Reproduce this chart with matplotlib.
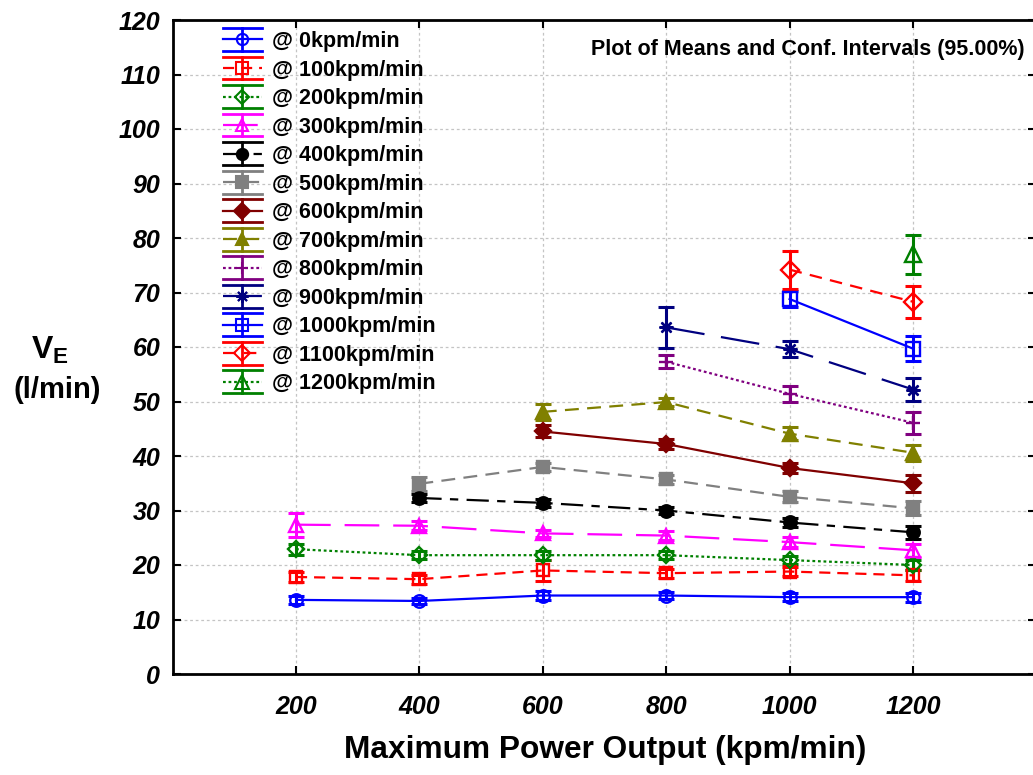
import numpy as np
import matplotlib
matplotlib.use("Agg")
import matplotlib.pyplot as plt
from matplotlib.lines import Line2D
from matplotlib.legend_handler import HandlerBase

plt.rcParams['font.family'] = ['Liberation Sans', 'DejaVu Sans']
plt.rcParams['mathtext.fontset'] = 'custom'
plt.rcParams['mathtext.bf'] = 'Liberation Sans:bold'
plt.rcParams['mathtext.rm'] = 'Liberation Sans:bold'
plt.rcParams['lines.scale_dashes'] = False

# ---------------- data ----------------
power_levels = [200, 400, 600, 800, 1000, 1200]
nan = np.nan

series_labels = ['@ 0kpm/min', '@ 100kpm/min', '@ 200kpm/min', '@ 300kpm/min',
                 '@ 400kpm/min', '@ 500kpm/min', '@ 600kpm/min', '@ 700kpm/min',
                 '@ 800kpm/min', '@ 900kpm/min', '@ 1000kpm/min', '@ 1100kpm/min',
                 '@ 1200kpm/min']

means_0 = [13.6, 13.4, 14.4, 14.4, 14.1, 14.1]
ci_0 = [0.7, 0.6, 0.8, 0.7, 0.7, 0.8]
means_100 = [17.8, 17.4, 19.0, 18.5, 18.8, 18.1]
ci_100 = [0.9, 0.8, 1.9, 0.8, 0.8, 1.0]
means_200 = [22.9, 21.8, 21.8, 21.8, 20.9, 20.0]
ci_200 = [1.0, 0.7, 0.8, 0.7, 0.8, 1.0]
means_300 = [27.4, 27.2, 25.8, 25.4, 24.2, 22.7]
ci_300 = [2.2, 0.8, 0.7, 0.8, 0.9, 1.2]
means_400 = [nan, 32.3, 31.4, 30.0, 27.8, 26.0]
ci_400 = [nan, 0.8, 0.7, 0.7, 0.9, 1.2]
means_500 = [nan, 34.9, 38.0, 35.7, 32.5, 30.4]
ci_500 = [nan, 1.3, 0.8, 0.9, 1.0, 1.3]
means_600 = [nan, nan, 44.5, 42.2, 37.8, 35.0]
ci_600 = [nan, nan, 1.1, 0.9, 1.0, 1.6]
means_700 = [nan, nan, 48.1, 49.9, 44.1, 40.6]
ci_700 = [nan, nan, 1.5, 0.8, 1.2, 1.5]
means_800 = [nan, nan, nan, 57.3, 51.4, 46.1]
ci_800 = [nan, nan, nan, 1.2, 1.4, 2.0]
means_900 = [nan, nan, nan, 63.6, 59.6, 52.2]
ci_900 = [nan, nan, nan, 3.8, 1.5, 2.1]
means_1000 = [nan, nan, nan, nan, 68.8, 59.7]
ci_1000 = [nan, nan, nan, nan, 1.5, 2.3]
means_1100 = [nan, nan, nan, nan, 74.2, 68.3]
ci_1100 = [nan, nan, nan, nan, 3.5, 2.9]
means_1200 = [nan, nan, nan, nan, nan, 77.0]
ci_1200 = [nan, nan, nan, nan, nan, 3.6]

all_means = [means_0, means_100, means_200, means_300, means_400, means_500,
             means_600, means_700, means_800, means_900, means_1000, means_1100,
             means_1200]
all_ci = [ci_0, ci_100, ci_200, ci_300, ci_400, ci_500, ci_600, ci_700, ci_800,
          ci_900, ci_1000, ci_1100, ci_1200]

# ---------------- styles ----------------
colors = ['#0000ff', '#ff0000', '#008000', '#ff00ff', '#000000', '#808080',
          '#800000', '#808000', '#800080', '#000080', '#0000ff', '#ff0000',
          '#008000']
markers = ['o', 's', 'D', '^', 'o', 's', 'D', '^', '+', (8, 2, 0), 's', 'D', '^']
filled = [False, False, False, False, True, True, True, True, True, False,
          False, False, False]
msizes = [9, 9, 8, 10, 9, 9, 8.5, 10, 10, 10, 10, 9, 11]
linestyles = ['-', (0, (8, 5)), (0, (2, 2)), (0, (25, 10)), (0, (16, 6, 6, 6)),
              (0, (10, 6)), '-', (0, (10, 6)), (0, (2, 2)), (0, (28, 12)), '-',
              (0, (9, 6)), (0, (2, 2))]

fig = plt.figure(figsize=(10.33, 7.75), dpi=100)
W, H = 1033.0, 775.0
ax_left, ax_right, ax_top, ax_bot = 172.6, 1036.4, 20.0, 674.0
ax = fig.add_axes([ax_left / W, 1 - ax_bot / H, (ax_right - ax_left) / W,
                   (ax_bot - ax_top) / H])

x = np.array(power_levels, dtype=float)
for i in range(len(series_labels)):
    m = np.array(all_means[i], dtype=float)
    c = np.array(all_ci[i], dtype=float)
    ok = ~np.isnan(m)
    mfc = colors[i] if filled[i] else 'none'
    ax.plot(x[ok], m[ok], color=colors[i], linestyle=linestyles[i], lw=1.6,
            zorder=3)
    ax.errorbar(x[ok], m[ok], yerr=c[ok], fmt='none', ecolor=colors[i],
                elinewidth=2.2, capsize=5.5, capthick=2.2, zorder=4)
    ax.plot(x[ok], m[ok], linestyle='none', marker=markers[i], ms=msizes[i],
            mfc=mfc, mec=colors[i], mew=1.7, color=colors[i], zorder=5)


class ErrHandler(HandlerBase):
    def create_artists(self, legend, orig_handle, xdescent, ydescent, width,
                       height, fontsize, trans):
        col = orig_handle.get_color()
        x0 = -xdescent
        x1 = x0 + width
        xm = (x0 + x1) / 2
        ym = -ydescent + height / 2
        half = 0.53 * fontsize
        arts = []
        hl = Line2D([x0, x1], [ym, ym], color=col, lw=1.6)
        dp = orig_handle._dash_pattern[1]
        if dp:
            hl.set_dashes(dp)
        arts.append(hl)
        arts.append(Line2D([xm, xm], [ym - half, ym + half], color=col, lw=2.0))
        arts.append(Line2D([x0, x1], [ym - half, ym - half], color=col, lw=2.0))
        arts.append(Line2D([x0, x1], [ym + half, ym + half], color=col, lw=2.0))
        mk = Line2D([xm], [ym], linestyle='none', marker=orig_handle.get_marker(),
                    ms=orig_handle.get_markersize() * 0.9,
                    mfc=orig_handle.get_markerfacecolor(), mec=col, mew=1.5)
        arts.append(mk)
        for a in arts:
            a.set_transform(trans)
        return arts


proxies = []
for i in range(len(series_labels)):
    mfc = colors[i] if filled[i] else 'none'
    proxies.append(Line2D([], [], color=colors[i], linestyle=linestyles[i],
                          marker=markers[i], ms=msizes[i], mfc=mfc))

leg = ax.legend(proxies, series_labels, loc='upper left',
                bbox_to_anchor=((223 - ax_left) / (ax_right - ax_left),
                                1.0 - 11 / (ax_bot - ax_top)),
                frameon=False, borderpad=0, borderaxespad=0,
                handlelength=1.8, handletextpad=0.46, labelspacing=0.35,
                prop={'weight': 'bold', 'size': 15.5},
                handler_map={Line2D: ErrHandler()})

ax.set_xlim(0, 1400)
ax.set_ylim(0, 120)
ax.set_xticks(power_levels)
ax.set_yticks(np.arange(0, 121, 10))
ax.set_xticklabels([str(v) for v in power_levels])
for lab in ax.get_xticklabels() + ax.get_yticklabels():
    lab.set_fontweight('bold')
    lab.set_fontstyle('italic')
    lab.set_fontsize(18)
ax.tick_params(direction='in', length=6, width=1.5, top=True, right=True,
               colors='black')
ax.tick_params(axis='y', pad=9)
ax.tick_params(axis='x', pad=15)
ax.grid(True, color='#c4c4c4', linestyle=(0, (2, 2)), linewidth=0.9, zorder=0)
ax.set_axisbelow(True)
for sp in ax.spines.values():
    sp.set_linewidth(2.0)

ax.text(0.986, 0.955, 'Plot of Means and Conf. Intervals (95.00%)',
        transform=ax.transAxes, ha='right', va='center', fontsize=15.5,
        fontweight='bold')

fig.text(50 / W, 1 - 350 / H, r'$\mathbf{V}_{\mathbf{E}}$', ha='center',
         va='center', fontsize=23)
fig.text(57 / W, 1 - 390 / H, '(l/min)', ha='center', va='center',
         fontsize=21, fontweight='bold')
fig.text(605 / W, 1 - 750 / H, 'Maximum Power Output (kpm/min)', ha='center',
         va='center', fontsize=22.8, fontweight='bold')

fig.savefig('out.png', dpi=100)
